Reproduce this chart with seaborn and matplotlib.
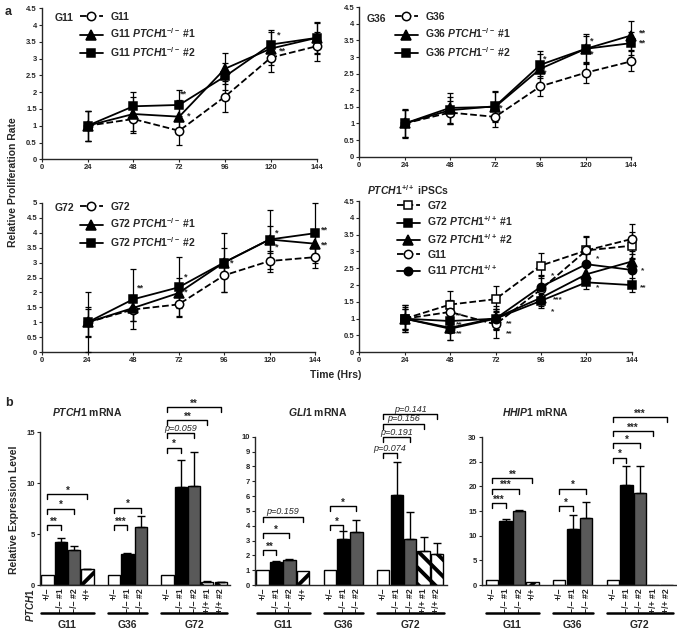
import matplotlib
matplotlib.use("Agg")
import matplotlib.pyplot as plt
import matplotlib.transforms as mtransforms
from matplotlib.ticker import FuncFormatter
import numpy as np
import pandas as pd
import seaborn as sns

W, H = 677, 644

hours = [24, 48, 72, 96, 120, 144]

# panel a - G11
g11 = [1.0, 1.2, 0.85, 1.87, 3.03, 3.37]
g11_sd = [0.45, 0.42, 0.43, 0.45, 0.42, 0.43]
g11_ko1 = [1.0, 1.35, 1.27, 2.7, 3.3, 3.62]
g11_ko1_sd = [0.45, 0.5, 0.5, 0.47, 0.5, 0.45]
g11_ko2 = [1.0, 1.58, 1.62, 2.47, 3.42, 3.62]
g11_ko2_sd = [0.45, 0.43, 0.45, 0.4, 0.43, 0.47]

# panel a - G36
g36 = [1.0, 1.33, 1.2, 2.12, 2.53, 2.87]
g36_sd = [0.4, 0.35, 0.3, 0.3, 0.3, 0.3]
g36_ko1 = [1.0, 1.47, 1.5, 2.65, 3.25, 3.65]
g36_ko1_sd = [0.4, 0.45, 0.45, 0.45, 0.4, 0.45]
g36_ko2 = [1.0, 1.4, 1.52, 2.77, 3.25, 3.42]
g36_ko2_sd = [0.45, 0.4, 0.45, 0.4, 0.45, 0.35]

# panel a - G72
g72 = [1.0, 1.43, 1.6, 2.57, 3.05, 3.18]
g72_sd = [0.45, 0.4, 0.4, 0.55, 0.35, 0.35]
g72_ko1 = [1.0, 1.48, 1.98, 3.0, 3.77, 3.63]
g72_ko1_sd = [0.5, 0.45, 0.5, 0.5, 0.45, 0.35]
g72_ko2 = [1.0, 1.77, 2.17, 3.0, 3.77, 3.98]
g72_ko2_sd = [1.0, 1.0, 1.0, 1.0, 1.0, 1.0]

# panel a - PTCH1+/+ iPSCs
wt_g72 = [1.0, 1.42, 1.58, 2.58, 3.03, 3.17]
wt_g72_sd = [0.4, 0.4, 0.38, 0.38, 0.42, 0.4]
wt_g72_1 = [1.0, 0.93, 1.0, 1.53, 2.08, 2.0]
wt_g72_1_sd = [0.4, 0.3, 0.3, 0.2, 0.2, 0.2]
wt_g72_2 = [1.0, 0.73, 1.02, 1.62, 2.32, 2.7]
wt_g72_2_sd = [0.35, 0.35, 0.35, 0.25, 0.3, 0.3]
wt_g11 = [1.0, 1.2, 0.83, 1.87, 3.03, 3.37]
wt_g11_sd = [0.3, 0.35, 0.4, 0.4, 0.4, 0.45]
wt_g11_pp = [1.0, 0.7, 1.0, 1.95, 2.62, 2.45]
wt_g11_pp_sd = [0.3, 0.33, 0.3, 0.35, 0.3, 0.35]

# significance marks for panel a (hrs, rate, text)
stars_g11 = [(74, 1.95, "**"), (77, 1.29, "*"), (124, 3.7, "*"), (126, 3.24, "**")]
stars_g36 = [(75, 1.46, "*"), (98, 2.93, "*"), (98, 2.53, "*"), (123, 3.49, "*"),
             (123, 3.08, "*"), (150, 3.72, "**"), (150, 3.41, "**")]
stars_g72 = [(52, 2.14, "**"), (76, 2.51, "*"), (76, 2.03, "*"), (100, 2.98, "*"),
             (124, 3.98, "*"), (124, 3.53, "*"), (149, 4.07, "**"), (149, 3.59, "**")]
stars_wt = [(53, 1.1, "**"), (53, 0.82, "**"), (53, 0.54, "**"), (79, 0.86, "**"),
            (79, 0.56, "**"), (102, 2.27, "*"), (105, 1.56, "***"), (102, 1.21, "*"),
            (126, 2.77, "*"), (126, 1.92, "*"), (150, 2.42, "*"), (150, 1.93, "**")]

# panel b
groups = ["G11", "G36", "G72"]
genotypes = [["+/−", "−/− #1", "−/− #2", "+/+"],
             ["+/−", "−/− #1", "−/− #2"],
             ["+/−", "−/− #1", "−/− #2", "+/+ #1", "+/+ #2"]]
kinds = [["het", "ko1", "ko2", "wt1"],
         ["het", "ko1", "ko2"],
         ["het", "ko1", "ko2", "wt2", "wt2"]]

ptch1_mean = [1.0, 4.25, 3.45, 1.55, 1.0, 3.05, 5.7, 1.0, 9.6, 9.75, 0.3, 0.25]
ptch1_err = [0, 0.35, 0.4, 0.05, 0, 0.05, 1.05, 0, 2.7, 3.3, 0.05, 0.05]
gli1_mean = [1.0, 1.58, 1.68, 0.95, 1.0, 3.1, 3.55, 1.0, 6.1, 3.1, 2.28, 2.1]
gli1_err = [0, 0.05, 0.1, 0, 0, 0.55, 0.8, 0, 2.2, 1.85, 0.95, 0.75]
hhip1_mean = [1.0, 12.9, 15.0, 0.7, 1.0, 11.3, 13.5, 1.0, 20.3, 18.7, 0, 0]
hhip1_err = [0, 0.5, 0.3, 0, 0, 2.9, 3.3, 0, 3.9, 5.5, 0, 0]

# brackets: (bar i, bar j, height, label)
ptch1_sig = [(0, 1, 5.9, "**"), (0, 2, 7.5, "*"), (0, 3, 8.9, "*"),
             (4, 5, 5.9, "***"), (4, 6, 7.6, "*"),
             (7, 8, 13.5, "*"), (7, 9, 14.9, "p=0.059"), (7, 10, 16.2, "**"), (7, 11, 17.5, "**")]
gli1_sig = [(0, 1, 2.36, "**"), (0, 2, 3.5, "*"), (0, 3, 4.6, "p=0.159"),
            (4, 5, 4.05, "*"), (4, 6, 5.3, "*"),
            (7, 8, 8.88, "p=0.074"), (7, 9, 9.96, "p=0.191"), (7, 10, 10.86, "p=0.156"),
            (7, 11, 11.53, "p=0.141")]
hhip1_sig = [(0, 1, 16.6, "***"), (0, 2, 19.5, "***"), (0, 3, 21.7, "**"),
             (4, 5, 16.0, "*"), (4, 6, 19.5, "*"),
             (7, 8, 25.8, "*"), (7, 9, 28.8, "*"), (7, 10, 31.2, "***"), (7, 11, 34.0, "***")]

sns.set_style("ticks")
plt.rcParams["font.family"] = ["Liberation Sans", "DejaVu Sans"]
plt.rcParams["font.weight"] = "bold"
plt.rcParams["mathtext.fontset"] = "custom"
plt.rcParams["mathtext.rm"] = "Liberation Sans:bold"
plt.rcParams["mathtext.it"] = "Liberation Sans:bold:italic"
plt.rcParams["mathtext.bf"] = "Liberation Sans:bold"
plt.rcParams["hatch.linewidth"] = 2.8
plt.rcParams["axes.linewidth"] = 1.0


def rect(left, top, right, bottom):
    return [left / W, 1 - bottom / H, (right - left) / W, (bottom - top) / H]


def draw_line(ax, y, sd, marker, face, dashed, label):
    df = pd.DataFrame({"hrs": hours, "rate": y})
    sns.lineplot(data=df, x="hrs", y="rate", ax=ax, color="black",
                 linestyle="--" if dashed else "-", linewidth=1.3,
                 marker=marker, markersize=6 if marker != "^" else 6.5,
                 markerfacecolor=face, markeredgecolor="black", markeredgewidth=1.1,
                 clip_on=False, zorder=4, label=label, legend=False)
    line = ax.lines[-1]
    ax.errorbar(hours, y, yerr=sd, fmt="none", ecolor="black", elinewidth=0.9,
                capsize=2.5, capthick=0.9, clip_on=False, zorder=3)
    return line


def style_time_axis(ax, ymax):
    ax.set_xlim(0, 144)
    ax.set_ylim(0, ymax)
    ax.set_xticks([0, 24, 48, 72, 96, 120, 144])
    ax.set_yticks(np.arange(0, ymax + 0.01, 0.5))
    ax.yaxis.set_major_formatter(FuncFormatter(lambda v, p: f"{v:g}"))
    ax.tick_params(labelsize=5.5, length=2, width=0.8, pad=1.5)
    ax.set_xlabel("")
    ax.set_ylabel("")
    sns.despine(ax=ax)


def add_stars(ax, marks, size):
    for x, y, s in marks:
        ax.text(x, y, s, ha="center", va="center", fontsize=size)


fig = plt.figure(figsize=(W / 100, H / 100), dpi=100)

# ---- panel a ----
panels = [
    (rect(41.7, 8.3, 316.7, 159.3), 4.5, "G11",
     [(g11, g11_sd, "o", "white", True, "G11"),
      (g11_ko1, g11_ko1_sd, "^", "black", False, r"G11 $\mathit{PTCH1}^{-/-}$ #1"),
      (g11_ko2, g11_ko2_sd, "s", "black", False, r"G11 $\mathit{PTCH1}^{-/-}$ #2")],
     stars_g11, (80, 12), (55, 18)),
    (rect(359.3, 7.3, 631, 156.7), 4.5, "G36",
     [(g36, g36_sd, "o", "white", True, "G36"),
      (g36_ko1, g36_ko1_sd, "^", "black", False, r"G36 $\mathit{PTCH1}^{-/-}$ #1"),
      (g36_ko2, g36_ko2_sd, "s", "black", False, r"G36 $\mathit{PTCH1}^{-/-}$ #2")],
     stars_g36, (395, 12), (367, 19)),
    (rect(42, 202.7, 315, 352.3), 5, "G72",
     [(g72, g72_sd, "o", "white", True, "G72"),
      (g72_ko1, g72_ko1_sd, "^", "black", False, r"G72 $\mathit{PTCH1}^{-/-}$ #1"),
      (g72_ko2, g72_ko2_sd, "s", "black", False, r"G72 $\mathit{PTCH1}^{-/-}$ #2")],
     stars_g72, (80, 202), (55, 208)),
    (rect(359.3, 201, 631.7, 352.3), 4.5, None,
     [(wt_g72, wt_g72_sd, "s", "white", True, "G72"),
      (wt_g72_1, wt_g72_1_sd, "s", "black", False, r"G72 $\mathit{PTCH1}^{+/+}$ #1"),
      (wt_g72_2, wt_g72_2_sd, "^", "black", False, r"G72 $\mathit{PTCH1}^{+/+}$ #2"),
      (wt_g11, wt_g11_sd, "o", "white", True, "G11"),
      (wt_g11_pp, wt_g11_pp_sd, "o", "black", False, r"G11 $\mathit{PTCH1}^{+/+}$")],
     stars_wt, (397, 201), None),
]

for box, ymax, tag, series, marks, leg_xy, tag_xy in panels:
    ax = fig.add_axes(box)
    handles = [draw_line(ax, *s) for s in series]
    style_time_axis(ax, ymax)
    add_stars(ax, marks, 6.5 if tag else 6)
    ax.legend(handles=handles, loc="upper left",
              bbox_to_anchor=(leg_xy[0] / W, 1 - leg_xy[1] / H),
              bbox_transform=fig.transFigure, frameon=False, fontsize=7.5,
              borderpad=0, borderaxespad=0, handlelength=2.2, handletextpad=0.7,
              labelspacing=0.45 if tag else 0.35)
    if tag:
        fig.text(tag_xy[0] / W, 1 - tag_xy[1] / H, tag, fontsize=7.5, va="center")

fig.text(367 / W, 1 - 190 / H, r"$\mathit{PTCH1}^{+/+}$ iPSCs", fontsize=7.5, va="center")
fig.text(5 / W, 1 - 12 / H, "a", fontsize=9, va="center")
fig.text(13 / W, 1 - 182 / H, "Relative Proliferation Rate", fontsize=7.5,
         rotation=90, ha="center", va="center")
fig.text(336 / W, 1 - 375 / H, "Time (Hrs)", fontsize=7.5, ha="center", va="center")

# ---- panel b ----
slot_pos, tick_labels, bar_kinds, group_spans = [], [], [], []
slot = 0
for g, gts, ks in zip(groups, genotypes, kinds):
    start = slot
    for gt, k in zip(gts, ks):
        slot_pos.append(slot)
        tick_labels.append(gt)
        bar_kinds.append(k)
        slot += 1
    group_spans.append((g, start, slot - 1))
    slot += 1

face = {"het": "white", "ko1": "black", "ko2": "#595959", "wt1": "white", "wt2": "white"}
hatch = {"het": None, "ko1": None, "ko2": None, "wt1": "//", "wt2": "\\\\"}

bar_panels = [
    (rect(40, 432.3, 230, 585), (-0.56, 13.7), 15, [0, 5, 10, 15],
     ptch1_mean, ptch1_err, ptch1_sig, r"$\mathit{PTCH1}$ mRNA", 87),
    (rect(255, 436.7, 447, 585), (-0.57, 13.75), 10, list(range(0, 11)),
     gli1_mean, gli1_err, gli1_sig, r"$\mathit{GLI1}$ mRNA", 318),
    (rect(481.7, 437, 677, 585), (-0.78, 13.77), 30, list(range(0, 31, 5)),
     hhip1_mean, hhip1_err, hhip1_sig, r"$\mathit{HHIP1}$ mRNA", 535),
]

for box, xlim, ymax, yticks, mean, err, sig, title, title_x in bar_panels:
    ax = fig.add_axes(box)
    for x, m, k in zip(slot_pos, mean, bar_kinds):
        ax.bar(x, m, width=0.92, color=face[k], edgecolor="black", linewidth=1,
               hatch=hatch[k], zorder=2)
    e = np.array(err)
    has = e > 0
    ax.errorbar(np.array(slot_pos)[has], np.array(mean)[has],
                yerr=[np.zeros(has.sum()), e[has]], fmt="none", ecolor="black",
                elinewidth=1, capsize=3, capthick=1, zorder=3)
    ax.set_xlim(*xlim)
    ax.set_ylim(0, ymax)
    ax.set_yticks(yticks)
    ax.set_xticks(slot_pos, tick_labels, rotation=90, fontsize=6.3)
    ax.tick_params(axis="x", length=0, pad=2)
    ax.tick_params(axis="y", labelsize=5.5, length=2, width=0.8, pad=1.5)
    sns.despine(ax=ax)

    drop = ymax * 5 / 150
    for i, j, h, lab in sig:
        x1, x2 = slot_pos[i], slot_pos[j]
        ax.plot([x1, x1, x2, x2], [h - drop, h, h, h - drop], color="black",
                lw=1, clip_on=False)
        if lab.startswith("p="):
            ax.text((x1 + x2) / 2, h + drop * 0.1, lab, ha="center", va="bottom",
                    fontsize=6.5, style="italic", weight="normal")
        else:
            ax.text((x1 + x2) / 2, h - drop * 0.3, lab, ha="center", va="bottom",
                    fontsize=7)

    tr = mtransforms.blended_transform_factory(ax.transData, fig.transFigure)
    for g, a, b in group_spans:
        ax.plot([a - 0.45, b + 0.5], [1 - 613 / H, 1 - 613 / H], color="black",
                lw=1.8, transform=tr, clip_on=False)
        ax.text((a + b) / 2, 1 - 625 / H, g, ha="center", va="center",
                fontsize=7.5, transform=tr)
    fig.text(title_x / W, 1 - 412 / H, title, fontsize=7.5, ha="center", va="center")

fig.text(5 / W, 1 - 403 / H, "b", fontsize=9, va="center")
fig.text(14 / W, 1 - 510 / H, "Relative Expression Level", fontsize=7.5,
         rotation=90, ha="center", va="center")
fig.text(30 / W, 1 - 588 / H, r"$\mathit{PTCH1}$", fontsize=7, rotation=90,
         ha="center", va="top")

fig.savefig("out.png", dpi=100)
